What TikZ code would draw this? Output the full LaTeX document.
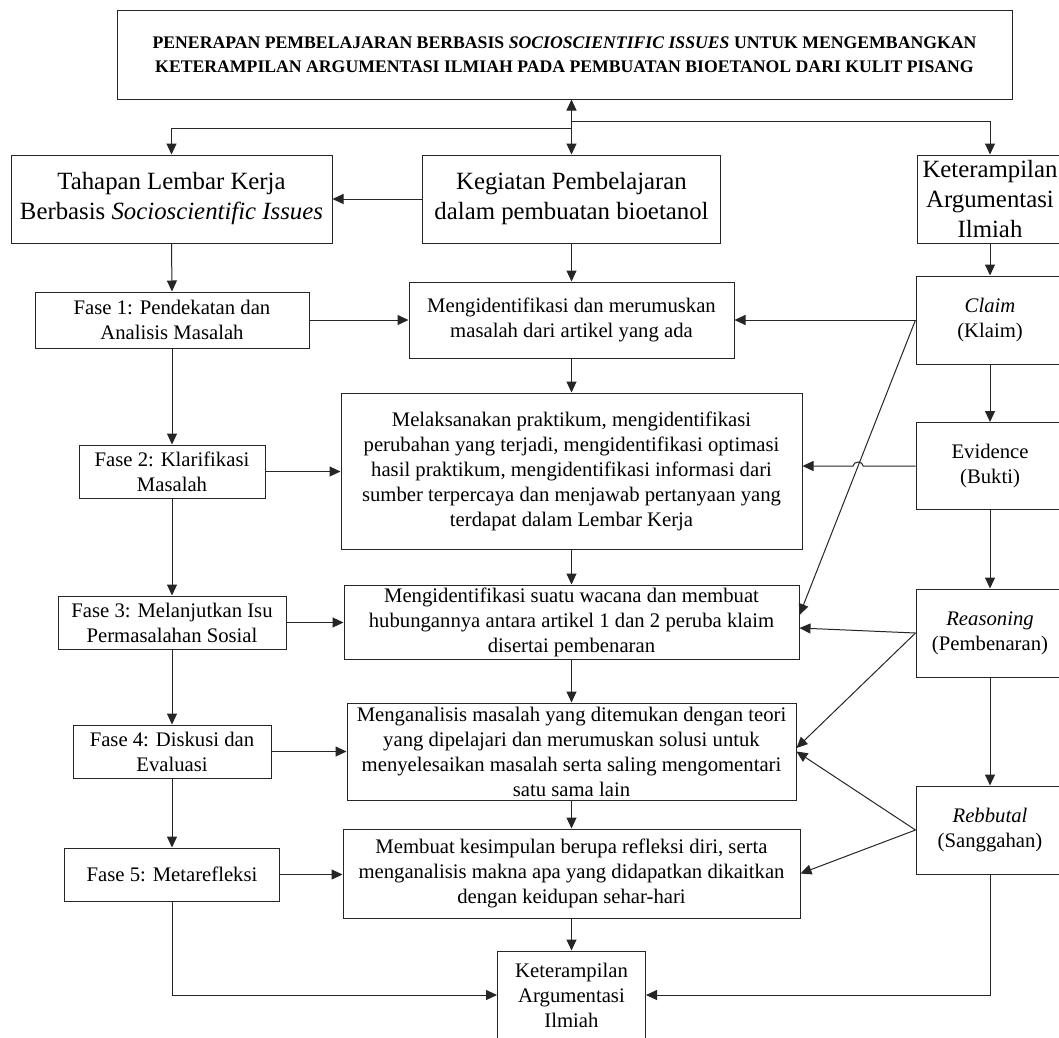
\documentclass[tikz,border=0pt]{standalone}
\usepackage{fontspec}
\setmainfont{Liberation Serif}
\usetikzlibrary{arrows.meta,calc}
\newcommand\fsbody{\fontsize{20.7}{25}\selectfont}
\newcommand\fsbig{\fontsize{24.8}{30}\selectfont}
\newcommand\fstitle{\fontsize{17.7}{24}\selectfont\bfseries}
\begin{document}
\begin{tikzpicture}[x=1pt,y=-1pt,
  box/.style={draw=black!85, line width=1pt, align=center, inner sep=0pt, font=\fsbody},
  arr/.style={draw=black!85, line width=1pt, -{Triangle[length=11pt,width=10pt]}},
  darr/.style={draw=black!85, line width=1pt, {Triangle[length=11pt,width=10pt]}-{Triangle[length=11pt,width=10pt]}}]
\fill[white] (0,0) rectangle (1059,1037);
\useasboundingbox (0,0) rectangle (1059,1037);

% title
\node[box, font=\fstitle, minimum width=895pt, minimum height=89pt] (title) at (564.5,54.5)
 {PENERAPAN PEMBELAJARAN BERBASIS \textit{SOCIOSCIENTIFIC ISSUES} UNTUK MENGEMBANGKAN\\
  KETERAMPILAN ARGUMENTASI ILMIAH PADA PEMBUATAN BIOETANOL DARI KULIT PISANG};

% top row
\node[box, font=\fsbig, minimum width=321pt, minimum height=88pt] (tahapan) at (171.5,199)
 {Tahapan Lembar Kerja\\Berbasis \textit{Socioscientific Issues}};
\node[box, font=\fsbig, minimum width=298pt, minimum height=88pt] (kegiatan) at (571.5,199)
 {Kegiatan Pembelajaran\\dalam pembuatan bioetanol};
\node[box, font=\fsbig, minimum width=146pt, minimum height=88pt] (ket) at (990,199)
 {Keterampilan\\Argumentasi\\Ilmiah};

% left column
\node[box, minimum width=274pt, minimum height=56pt] (f1) at (172,320) {Fase 1: Pendekatan dan\\Analisis Masalah};
\node[box, minimum width=186pt, minimum height=53pt] (f2) at (172,471.5) {Fase 2: Klarifikasi\\Masalah};
\node[box, minimum width=228pt, minimum height=53pt] (f3) at (172,622.5) {Fase 3: Melanjutkan Isu\\Permasalahan Sosial};
\node[box, minimum width=198pt, minimum height=53pt] (f4) at (172,751.5) {Fase 4: Diskusi dan\\Evaluasi};
\node[box, minimum width=215pt, minimum height=53pt] (f5) at (172,874.5) {Fase 5: Metarefleksi};

% center column
\node[box, minimum width=325pt, minimum height=76pt] (c1) at (571.5,320)
 {Mengidentifikasi dan merumuskan\\masalah dari artikel yang ada};
\node[box, minimum width=461pt, minimum height=156pt] (c2) at (571.5,471)
 {Melaksanakan praktikum, mengidentifikasi\\perubahan yang terjadi, mengidentifikasi optimasi\\hasil praktikum, mengidentifikasi informasi dari\\sumber terpercaya dan menjawab pertanyaan yang\\terdapat dalam Lembar Kerja};
\node[box, minimum width=455pt, minimum height=74pt] (c3) at (571.5,622)
 {Mengidentifikasi suatu wacana dan membuat\\hubungannya antara artikel 1 dan 2 peruba klaim\\disertai pembenaran};
\node[box, minimum width=449pt, minimum height=97pt] (c4) at (571.5,751.5)
 {Menganalisis masalah yang ditemukan dengan teori\\yang dipelajari dan merumuskan solusi untuk\\menyelesaikan masalah serta saling mengomentari\\satu sama lain};
\node[box, minimum width=457pt, minimum height=89pt] (c5) at (571.5,873.5)
 {Membuat kesimpulan berupa refleksi diri, serta\\menganalisis makna apa yang didapatkan dikaitkan\\dengan keidupan sehar-hari};
\node[box, minimum width=148pt, minimum height=88pt] (bot) at (571.5,995)
 {Keterampilan\\Argumentasi\\Ilmiah};

% right column
\node[box, minimum width=148pt, minimum height=88pt] (claim) at (990,320) {\textit{Claim}\\(Klaim)};
\node[box, minimum width=148pt, minimum height=87pt] (evid) at (990,466) {Evidence\\(Bukti)};
\node[box, minimum width=148pt, minimum height=88pt] (reas) at (990,633) {\textit{Reasoning}\\(Pembenaran)};
\node[box, minimum width=148pt, minimum height=88pt] (reb) at (990,830) {\textit{Rebbutal}\\(Sanggahan)};

% top connectors
\coordinate (jl) at (571.5,128);
\coordinate (jr) at (571.5,121);
\draw[darr] (title.south -| kegiatan.north) -- (kegiatan.north);
\draw[arr] (jl) -| (tahapan.north);
\draw[arr] (jr) -| (ket.north);
\draw[arr] (kegiatan.west) -- (tahapan.east);
\draw[arr] (tahapan.south) -- (f1.north);
\draw[arr] (kegiatan.south) -- (c1.north);
\draw[arr] (ket.south) -- (claim.north);

% left chain
\draw[arr] (f1.south) -- (f2.north);
\draw[arr] (f2.south) -- (f3.north);
\draw[arr] (f3.south) -- (f4.north);
\draw[arr] (f4.south) -- (f5.north);
\draw[arr] (f1.east) -- (c1.west);
\draw[arr] (f2.east) -- (c2.west |- f2.east);
\draw[arr] (f3.east) -- (c3.west |- f3.east);
\draw[arr] (f4.east) -- (c4.west |- f4.east);
\draw[arr] (f5.east) -- (c5.west |- f5.east);
\draw[arr] (f5.south) |- (bot.west);

% center chain
\draw[arr] (c1.south) -- (c2.north);
\draw[arr] (c2.south) -- (c3.north);
\draw[arr] (c3.south) -- (c4.north);
\draw[arr] (c4.south) -- (c5.north);
\draw[arr] (c5.south) -- (bot.north);

% right chain
\draw[arr] (claim.south) -- (evid.north);
\draw[arr] (evid.south) -- (reas.north);
\draw[arr] (reas.south) -- (reb.north);
\draw[arr] (reb.south) |- (bot.east);

% cross connectors
\coordinate (t3) at ([yshift=7pt]c3.east);
\coordinate (t2) at (evid.west -| c2.east);
\coordinate (hop) at (intersection of claim.west--t3 and evid.west--t2);
\draw[arr] (claim.west) -- (claim.west -| c1.east);
\draw[arr] (claim.west) -- (t3);
\draw[arr] (evid.west) -- ([xshift=5pt]hop) arc[start angle=0, end angle=180, x radius=5pt, y radius=4pt] -- (t2);
\draw[arr] (reas.west) -- ([yshift=-6pt]c3.east);
\draw[arr] (reas.west) -- ([yshift=3.5pt]c4.east);
\draw[arr] (reb.west) -- (c4.east);
\draw[arr] (reb.west) -- (c5.east);
\end{tikzpicture}
\end{document}
